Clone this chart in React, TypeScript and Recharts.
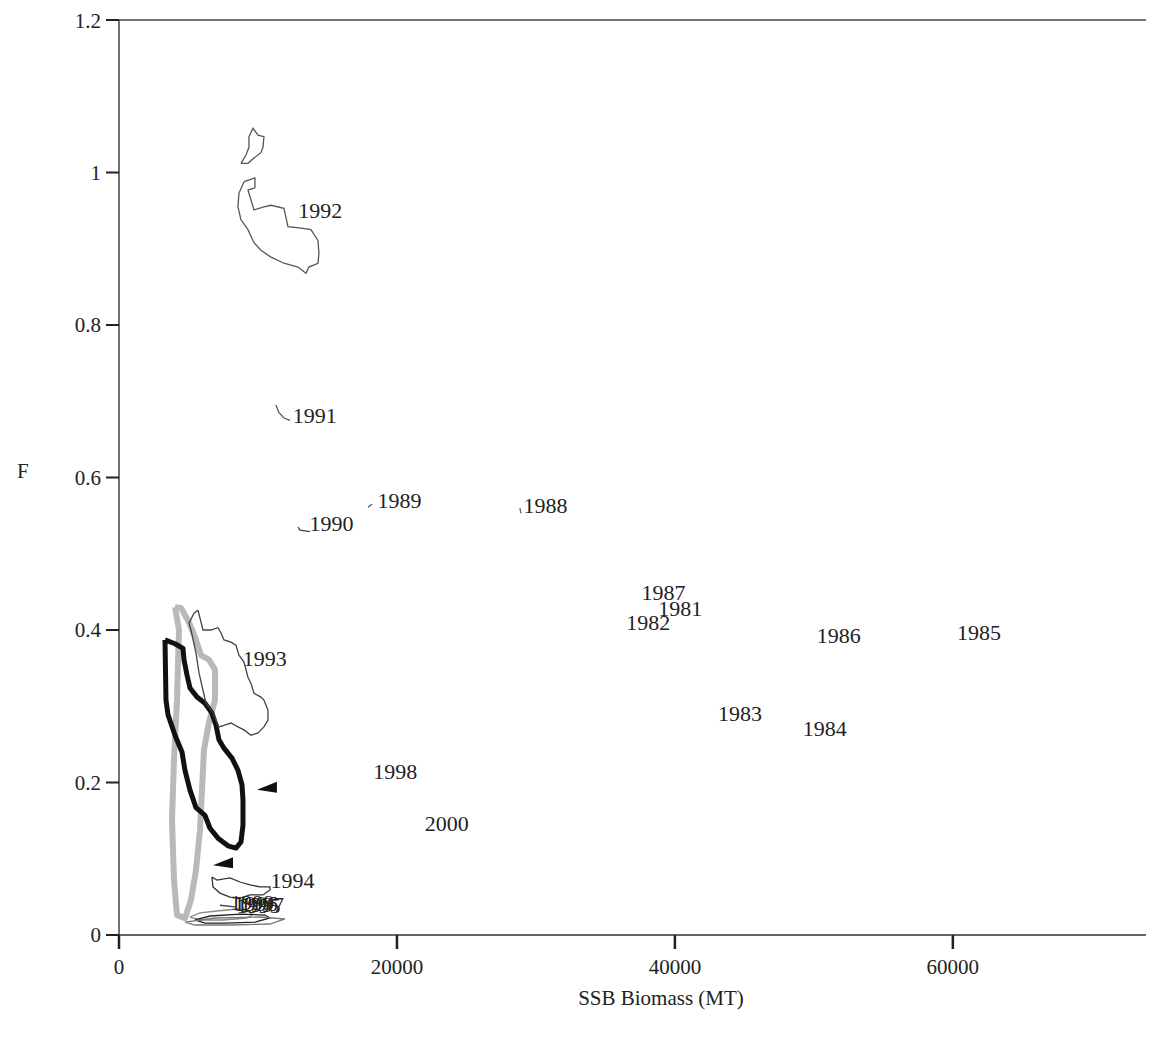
import React from 'react';
import { ScatterChart, Scatter, XAxis, YAxis, ReferenceLine } from 'recharts';

// point estimates: year label, SSB (MT), F
const years = ['1981', '1982', '1983', '1984', '1985', '1986', '1987', '1988', '1989', '1990', '1991', '1992', '1993', '1994', '1995', '1996', '1997', '1998', '1999', '2000'];
const ssb = [38800, 36500, 43100, 49200, 60300, 50200, 37600, 29100, 18600, 13700, 12500, 12900, 8900, 10900, 8450, 8250, 8700, 18300, 8000, 22000];
const fish = [0.429, 0.41, 0.291, 0.271, 0.397, 0.393, 0.45, 0.564, 0.57, 0.54, 0.682, 0.951, 0.363, 0.072, 0.039, 0.041, 0.04, 0.215, 0.043, 0.146];

// confidence contours [SSB, F]
const c1992a = [[9000, 0.988], [9780, 0.993], [9780, 0.98], [9280, 0.977], [9712, 0.951], [10431, 0.955], [10935, 0.957], [11870, 0.953], [12158, 0.929], [13093, 0.927], [13812, 0.925], [14316, 0.911], [14388, 0.894], [14316, 0.881], [13669, 0.876], [13453, 0.868], [12877, 0.876], [11870, 0.881], [10935, 0.889], [10215, 0.898], [9712, 0.908], [9280, 0.925], [8777, 0.938], [8561, 0.955], [8633, 0.973], [9000, 0.988]];
const c1992b = [[8777, 1.012], [9136, 1.023], [9352, 1.033], [9352, 1.047], [9640, 1.058], [10000, 1.049], [10431, 1.047], [10359, 1.033], [10215, 1.026], [9712, 1.019], [9280, 1.012], [8777, 1.012]];
const c1993 = [[5683, 0.426], [6043, 0.4], [6618, 0.4], [7122, 0.403], [7338, 0.396], [7554, 0.387], [8057, 0.384], [8417, 0.38], [8633, 0.367], [8993, 0.358], [9280, 0.338], [9496, 0.33], [9712, 0.317], [10215, 0.312], [10431, 0.308], [10719, 0.295], [10719, 0.282], [10431, 0.273], [10000, 0.265], [9496, 0.262], [8993, 0.269], [8561, 0.273], [8057, 0.278], [7554, 0.275], [7194, 0.273], [6978, 0.282], [6762, 0.291], [6475, 0.299], [6259, 0.304], [6043, 0.321], [5755, 0.344], [5539, 0.37], [5180, 0.4], [5036, 0.409], [5396, 0.422], [5683, 0.426]];
const c1994 = [[6690, 0.076], [7050, 0.072], [7985, 0.075], [8705, 0.0695], [9424, 0.0656], [10144, 0.063], [10863, 0.063], [10863, 0.059], [10359, 0.0525], [9424, 0.0525], [8705, 0.0485], [7985, 0.0498], [7266, 0.055], [6762, 0.063], [6690, 0.076]];
const c1991 = [[11295, 0.695], [11510, 0.685], [11870, 0.678], [12302, 0.675]];
const c1990 = [[12877, 0.535], [13021, 0.531], [13741, 0.529]];
const c1989 = [[17913, 0.561], [18201, 0.565]];
const c1988 = [[28848, 0.56], [28920, 0.553]];
const cLowA = [[5108, 0.0236], [5827, 0.0289], [7050, 0.0315], [8489, 0.0341], [9424, 0.0315], [9568, 0.0262], [9208, 0.0223], [7482, 0.0197], [5827, 0.0197], [5108, 0.0236]];
const cLowB = [[5467, 0.0197], [6547, 0.0249], [8705, 0.0275], [10503, 0.0262], [10863, 0.0223], [9784, 0.017], [7626, 0.0157], [6187, 0.0157], [5467, 0.0197]];
const cLowC = [[4748, 0.017], [6906, 0.0223], [10144, 0.0236], [11942, 0.021], [10863, 0.0144], [7985, 0.0131], [5467, 0.0131], [4748, 0.017]];
const cDash = [[7266, 0.039], [8345, 0.037]];
const cThickBlack = [[3309, 0.387], [3381, 0.308], [3525, 0.289], [4029, 0.262], [4532, 0.24], [4748, 0.216], [5108, 0.19], [5539, 0.167], [6187, 0.157], [6547, 0.14], [7122, 0.127], [7841, 0.117], [8417, 0.114], [8777, 0.122], [8921, 0.144], [8921, 0.177], [8849, 0.197], [8561, 0.216], [8129, 0.232], [7554, 0.245], [7194, 0.256], [6978, 0.275], [6690, 0.291], [6187, 0.304], [5611, 0.312], [5108, 0.324], [4892, 0.341], [4676, 0.361], [4604, 0.376], [4029, 0.382], [3309, 0.387]];
const cThickGray = [[4029, 0.43], [4316, 0.4], [4173, 0.308], [3957, 0.23], [3813, 0.151], [3957, 0.072], [4173, 0.026], [4748, 0.022], [5180, 0.046], [5539, 0.085], [5827, 0.138], [5971, 0.19], [6115, 0.243], [6475, 0.279], [6906, 0.308], [6906, 0.348], [6475, 0.361], [5899, 0.367], [5539, 0.387], [5036, 0.41], [4460, 0.429], [4029, 0.43]];

// arrowhead markers
const arrowSsb = [10647, 7482];
const arrowF = [0.193, 0.094];

const xTicks = [0, 20000, 40000, 60000];
const yTicks = [0, 0.2, 0.4, 0.6, 0.8, 1, 1.2];

const FONT = '"Liberation Serif", "DejaVu Serif", serif';

const toPts = (arr: number[][]) => arr.map(([x, y]) => ({ x, y }));
const labelData = years.map((year, i) => ({ x: ssb[i], y: fish[i], year }));
const arrowData = arrowSsb.map((x, i) => ({ x, y: arrowF[i] }));

const thin = [
  { d: c1992a, c: '#555' },
  { d: c1992b, c: '#555' },
  { d: c1993, c: '#444' },
  { d: c1994, c: '#333' },
  { d: c1991, c: '#555' },
  { d: c1990, c: '#444' },
  { d: c1989, c: '#555' },
  { d: c1988, c: '#666' },
  { d: cLowA, c: '#888' },
  { d: cLowB, c: '#222' },
  { d: cLowC, c: '#777' },
  { d: cDash, c: '#444' },
];

const noDot = () => <g />;

const YearLabel = (props: any) => (
  <text x={props.cx} y={props.cy} dy="0.35em" fontSize={22} fontFamily={FONT} fill="#222">
    {props.payload.year}
  </text>
);

const Arrow = (props: any) => {
  const { cx, cy } = props;
  return <polygon points={`${cx - 10},${cy + 2} ${cx + 10},${cy - 6} ${cx + 10},${cy + 5}`} fill="#111" />;
};

export default function App() {
  return (
    <div style={{ width: 1146, height: 1020, overflow: 'hidden', background: '#fff' }}>
      <ScatterChart width={1195} height={1020} margin={{ top: 12, right: 0, left: 0, bottom: 0 }}>
        <XAxis
          type="number"
          dataKey="x"
          domain={[0, 78000]}
          ticks={xTicks}
          allowDataOverflow
          height={93}
          tickSize={14}
          tickMargin={10}
          axisLine={{ stroke: '#333', strokeWidth: 1.5 }}
          tickLine={{ stroke: '#222', strokeWidth: 2.5 }}
          tick={{ fontSize: 21, fontFamily: FONT, fill: '#222' }}
          label={{
            content: (p: any) => (
              <text x={p.viewBox.x + p.viewBox.width / 2} y={p.viewBox.y + 70} textAnchor="middle" fontSize={21} fontFamily={FONT} fill="#222">
                SSB Biomass (MT)
              </text>
            ),
          }}
        />
        <YAxis
          type="number"
          dataKey="y"
          domain={[0, 1.2]}
          ticks={yTicks}
          allowDataOverflow
          width={111}
          tickSize={13}
          tickMargin={5}
          axisLine={{ stroke: '#444', strokeWidth: 1.5 }}
          tickLine={{ stroke: '#222', strokeWidth: 2 }}
          tick={{ fontSize: 21, fontFamily: FONT, fill: '#222' }}
          label={{
            content: (p: any) => (
              <text x={9} y={p.viewBox.y + p.viewBox.height / 2} fontSize={21} fontFamily={FONT} fill="#222">
                F
              </text>
            ),
          }}
        />
        <ReferenceLine y={1.2} stroke="#444" strokeWidth={1.5} />
        <Scatter data={toPts(cThickGray)} fill="#b9b9b9" line={{ stroke: '#b9b9b9', strokeWidth: 6, strokeLinejoin: 'round' }} shape={noDot} isAnimationActive={false} />
        <Scatter data={toPts(cThickBlack)} fill="#111" line={{ stroke: '#111', strokeWidth: 5, strokeLinejoin: 'round' }} shape={noDot} isAnimationActive={false} />
        {thin.map((t, i) => (
          <Scatter key={i} data={toPts(t.d)} fill={t.c} line={{ stroke: t.c, strokeWidth: 1.3 }} shape={noDot} isAnimationActive={false} />
        ))}
        <Scatter data={labelData} shape={YearLabel} isAnimationActive={false} />
        <Scatter data={arrowData} shape={Arrow} isAnimationActive={false} />
      </ScatterChart>
    </div>
  );
}
